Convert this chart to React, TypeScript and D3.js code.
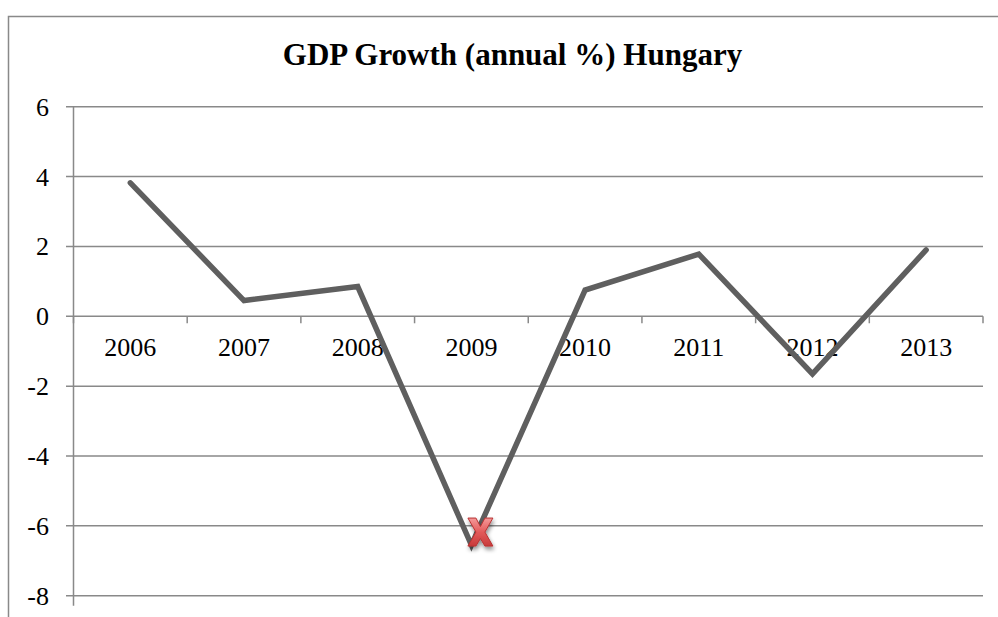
import React from "react";
import * as d3 from "d3";

const years = ["2006", "2007", "2008", "2009", "2010", "2011", "2012", "2013"];
const growth = [3.82, 0.45, 0.85, -6.55, 0.75, 1.78, -1.65, 1.9];
const yTicks = [6, 4, 2, 0, -2, -4, -6, -8];
const title = "GDP Growth (annual %) Hungary";
const markedYear = "2009";

const W = 998;
const H = 617;
const plotLeft = 73.5;
const plotRight = 983;
const plotTop = 106.7;
const plotBottom = 595.7;
const FONT = "'Liberation Serif', 'Times New Roman', serif";
const GRID = "#898989";

export default function App() {
  const x = d3.scaleBand<string>().domain(years).range([plotLeft, plotRight]).paddingInner(0).paddingOuter(0);
  const y = d3.scaleLinear().domain([-8, 6]).range([plotBottom, plotTop]);
  const cx = (yr: string) => (x(yr) as number) + x.bandwidth() / 2;
  const line = d3
    .line<number>()
    .x((_, i) => cx(years[i]))
    .y((d) => y(d));
  const path = line(growth) || "";
  const zeroY = y(0);
  const boundaries = years.map((yr) => x(yr) as number).concat([plotRight]);
  const mi = years.indexOf(markedYear);
  const mx = cx(markedYear) + 9;
  const my = y(growth[mi]) - 13;

  const xArm = "M-4.5,-14 L0,-5.5 L4.5,-14 L12.5,-14 L4.5,0 L12.5,14 L4.5,14 L0,6.5 L-4.5,14 L-12.5,14 L-4.5,0 L-12.5,-14 Z";

  return (
    <svg width={W} height={H} style={{ position: "absolute", left: 0, top: 0 }} xmlns="http://www.w3.org/2000/svg">
      <defs>
        <linearGradient id="xg" x1="0" y1="0" x2="0" y2="1">
          <stop offset="0" stopColor="#f59a9a" />
          <stop offset="0.5" stopColor="#e25a5a" />
          <stop offset="1" stopColor="#c83a3a" />
        </linearGradient>
        <filter id="sh" x="-50%" y="-50%" width="200%" height="200%">
          <feGaussianBlur in="SourceAlpha" stdDeviation="2" />
          <feOffset dx="1" dy="3" result="b" />
          <feComponentTransfer>
            <feFuncA type="linear" slope="0.45" />
          </feComponentTransfer>
          <feMerge>
            <feMergeNode />
            <feMergeNode in="SourceGraphic" />
          </feMerge>
        </filter>
      </defs>
      <rect x={0} y={0} width={W} height={H} fill="#fff" />
      <rect x={8.5} y={16.5} width={1100} height={800} fill="none" stroke={GRID} strokeWidth={1.5} />
      <text x={512.5} y={65} textAnchor="middle" fontFamily={FONT} fontWeight="bold" fontSize={31} fill="#000">
        {title}
      </text>
      {yTicks.map((t) => (
        <g key={t}>
          <line x1={66} x2={plotRight} y1={y(t)} y2={y(t)} stroke={GRID} strokeWidth={1.5} />
          <text x={49} y={y(t) + 9} textAnchor="end" fontFamily={FONT} fontSize={26} fill="#000">
            {t}
          </text>
        </g>
      ))}
      <line x1={plotLeft} x2={plotLeft} y1={plotTop} y2={plotBottom + 10} stroke={GRID} strokeWidth={1.5} />
      {boundaries.map((b, i) => (
        <line key={i} x1={b} x2={b} y1={zeroY} y2={zeroY + 7} stroke={GRID} strokeWidth={1.5} />
      ))}
      {years.map((yr) => (
        <text key={yr} x={cx(yr)} y={zeroY + 40} textAnchor="middle" fontFamily={FONT} fontSize={26} fill="#000">
          {yr}
        </text>
      ))}
      <path d={path} fill="none" stroke="#5f5f5f" strokeWidth={5.5} strokeLinejoin="miter" strokeLinecap="round" />
      <g transform={`translate(${mx},${my})`} filter="url(#sh)">
        <path d={xArm} fill="url(#xg)" stroke="#b83232" strokeWidth={1} strokeLinejoin="round" />
      </g>
    </svg>
  );
}
